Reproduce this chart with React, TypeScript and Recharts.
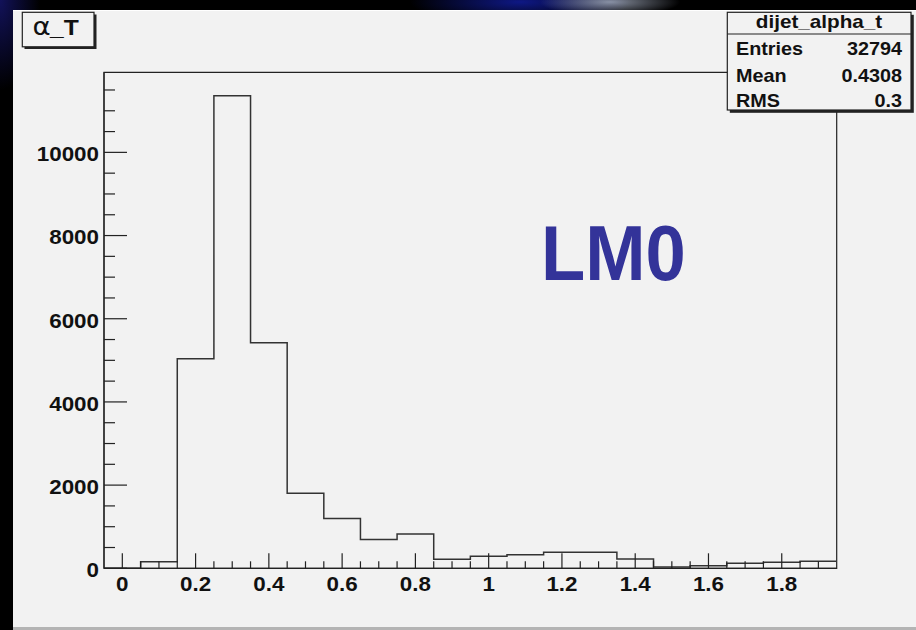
import React from "react";
import { ComposedChart, Line, XAxis, YAxis, ReferenceArea } from "recharts";

// histogram dijet_alpha_t, 20 bins of 0.1 from -0.05
const binLow = -0.05;
const binWidth = 0.1;
const counts = [0, 155, 5040, 11360, 5420, 1805, 1200, 690, 825, 220, 289, 328, 386, 386, 226, 32, 63, 120, 145, 169];
const xMajorLabels = ["0", "0.2", "0.4", "0.6", "0.8", "1", "1.2", "1.4", "1.6", "1.8"];
const yMajorLabels = ["0", "2000", "4000", "6000", "8000", "10000"];
const statRows = [
  ["Entries", "32794"],
  ["Mean", "0.4308"],
  ["RMS", "0.3"],
];

const xMax = binLow + counts.length * binWidth;
const yMax = 11925;

const histData = counts.map((c, i) => ({ x: Math.round((binLow + i * binWidth) * 100) / 100, y: c }));
histData.push({ x: Math.round(xMax * 100) / 100, y: counts[counts.length - 1] });

// minor ticks every 0.05, majors every 0.2
const xTicks = Array.from({ length: 39 }, (_, i) => Math.round(i * 5) / 100);
// minor ticks every 500, majors every 2000
const yTicks = Array.from({ length: 24 }, (_, i) => i * 500);

const FONT = '"Liberation Sans", Arial, Helvetica, sans-serif';
const INK = "#222";

const XTick = (props: any) => {
  const { x, y, index } = props;
  const major = index % 4 === 0;
  return (
    <g>
      <line x1={x} x2={x} y1={y} y2={y - (major ? 15 : 7)} stroke={INK} strokeWidth={1.2} />
      {major && (
        <text
          transform={`translate(${x} ${y + 22.7}) scale(1.12 1)`}
          textAnchor="middle"
          fontFamily={FONT}
          fontWeight="bold"
          fontSize={20}
          fill="#111"
        >
          {xMajorLabels[index / 4]}
        </text>
      )}
    </g>
  );
};

const YTick = (props: any) => {
  const { x, y, payload } = props;
  const v = payload.value as number;
  const major = v % 2000 === 0;
  return (
    <g>
      <line x1={x} x2={x + (major ? 23 : 11)} y1={y} y2={y} stroke={INK} strokeWidth={1.2} />
      {major && (
        <text
          transform={`translate(${x - 5} ${y + 8.8}) scale(1.12 1)`}
          textAnchor="end"
          fontFamily={FONT}
          fontWeight="bold"
          fontSize={20}
          fill="#111"
        >
          {yMajorLabels[v / 2000]}
        </text>
      )}
    </g>
  );
};

export default function App() {
  return (
    <div
      style={{
        position: "relative",
        width: 916,
        height: 630,
        overflow: "hidden",
        background:
          "radial-gradient(ellipse 70px 14px at 610px 2px, rgba(170,180,200,0.8), rgba(0,0,0,0) 100%), radial-gradient(ellipse 110px 22px at 520px 2px, rgba(15,25,140,0.95), rgba(0,0,0,0) 100%), radial-gradient(ellipse 40px 90px at 0px 0px, rgba(20,20,100,0.9), rgba(0,0,0,0) 100%), #000",
      }}
    >
      <style>{"body{margin:0}"}</style>
      <div
        style={{
          position: "absolute",
          left: 13,
          top: 10,
          width: 903,
          height: 616,
          background: "#f2f2f2",
          borderTop: "1px solid #fff",
          borderBottom: "3px solid #b4b4b4",
        }}
      />
      <div style={{ position: "absolute", left: 0, top: 0 }}>
        <ComposedChart
          width={916}
          height={630}
          data={histData}
          margin={{ top: 72.3, right: 79.3, bottom: 21.7, left: 14 }}
        >
          <XAxis
            type="number"
            dataKey="x"
            domain={[binLow, xMax]}
            allowDataOverflow
            ticks={xTicks}
            interval={0}
            tick={XTick}
            tickLine={false}
            tickSize={0}
            tickMargin={0}
            height={40}
            axisLine={{ stroke: INK, strokeWidth: 1.2 }}
          />
          <YAxis
            type="number"
            domain={[0, yMax]}
            allowDataOverflow
            ticks={yTicks}
            interval={0}
            tick={YTick}
            tickLine={false}
            tickSize={0}
            tickMargin={0}
            width={90}
            axisLine={{ stroke: INK, strokeWidth: 1.2 }}
          />
          <ReferenceArea
            x1={binLow}
            x2={xMax}
            y1={0}
            y2={yMax}
            fill="none"
            stroke={INK}
            strokeWidth={1.2}
            ifOverflow="visible"
          />
          <Line
            dataKey="y"
            type="stepAfter"
            stroke="#333"
            strokeWidth={1.5}
            dot={false}
            activeDot={false}
            isAnimationActive={false}
          />
        </ComposedChart>
      </div>
      <svg
        width={916}
        height={630}
        style={{ position: "absolute", left: 0, top: 0, pointerEvents: "none" }}
      >
        {/* title box */}
        <rect x={24.5} y={14.5} width={72} height={34.5} fill={INK} />
        <rect x={22.3} y={12.3} width={71.7} height={34.5} fill="#f2f2f2" stroke={INK} strokeWidth={1.2} />
        <text transform="translate(32.5 35.3) scale(1.15 1)" fontFamily="DejaVu Sans, sans-serif" fontSize={24} fill="#111">
          α
        </text>
        <text transform="translate(50 35.3) scale(1.12 1)" fontFamily={FONT} fontWeight="bold" fontSize={22} fill="#111">
          _T
        </text>

        {/* stats box */}
        <rect x={729.8} y={14.8} width={184} height={98} fill={INK} />
        <rect x={727.3} y={12.3} width={183.7} height={97.7} fill="#f2f2f2" stroke={INK} strokeWidth={1.2} />
        <line x1={727.3} x2={911} y1={34} y2={34} stroke={INK} strokeWidth={1.2} />
        <text
          transform="translate(819 28) scale(1.15 1)"
          textAnchor="middle"
          fontFamily={FONT}
          fontWeight="bold"
          fontSize={18}
          fill="#111"
        >
          dijet_alpha_t
        </text>
        {statRows.map(([k, v], i) => {
          const baseline = [55, 82, 106.5][i];
          return (
            <g key={k}>
              <text transform={`translate(736 ${baseline}) scale(1.1 1)`} fontFamily={FONT} fontWeight="bold" fontSize={18} fill="#111">
                {k}
              </text>
              <text
                transform={`translate(902 ${baseline}) scale(1.1 1)`}
                textAnchor="end"
                fontFamily={FONT}
                fontWeight="bold"
                fontSize={18}
                fill="#111"
              >
                {v}
              </text>
            </g>
          );
        })}

        {/* sample label */}
        <text transform="translate(541 280) scale(0.94 1)" fontFamily={FONT} fontWeight="bold" fontSize={77} fill="#333399">
          LM0
        </text>
      </svg>
    </div>
  );
}
